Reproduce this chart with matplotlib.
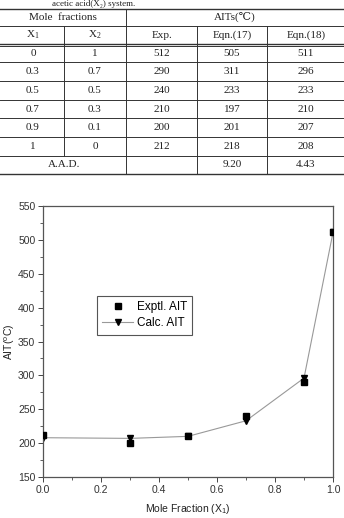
import matplotlib.pyplot as plt
from matplotlib.lines import Line2D

# table data
x1_vals = ["0", "0.3", "0.5", "0.7", "0.9", "1"]
x2_vals = ["1", "0.7", "0.5", "0.3", "0.1", "0"]
exp_vals = ["512", "290", "240", "210", "200", "212"]
eq17_vals = ["505", "311", "233", "197", "201", "218"]
eq18_vals = ["511", "296", "233", "210", "207", "208"]
aad = ["9.20", "4.43"]

# chart data
mole_frac = [0.0, 0.3, 0.5, 0.7, 0.9, 1.0]
ait_exp = [212, 200, 210, 240, 290, 512]
ait_calc = [208, 207, 210, 233, 296, 511]

W, H = 344, 518
fig = plt.figure(figsize=(W / 100, H / 100), dpi=100)


def fx(x):
    return x / W


def fy(y):
    return 1 - y / H


def hline(y, x0=0, x1=W, lw=0.7):
    fig.add_artist(Line2D([fx(x0), fx(x1)], [fy(y), fy(y)], color="#333333", lw=lw))


def vline(x, y0, y1, lw=0.7):
    fig.add_artist(Line2D([fx(x), fx(x)], [fy(y0), fy(y1)], color="#333333", lw=lw))


serif = ["Liberation Serif", "DejaVu Serif"]
tkw = dict(ha="center", va="center", fontsize=8, family=serif, color="#222222")

# caption above the table
fig.text(fx(52), fy(3.8), "acetic acid(X₂) system.", ha="left", va="center",
         fontsize=6.5, family=serif, color="#222222")

# table lines
hline(8.5, lw=1.0)
hline(26)
hline(43.5, lw=1.0)
hline(45.5, lw=0.7)
row_lines = [62, 81, 100, 118, 137, 156]
for y in row_lines:
    hline(y)
hline(174, lw=1.0)
vline(126, 8.5, 174)
vline(64, 26, 156)
vline(197, 26, 174)
vline(267, 26, 174)

# headers
fig.text(fx(63), fy(17), "Mole  fractions", **tkw)
fig.text(fx(235), fy(17), "AITs(℃)", **tkw)
col_x = [33, 95, 162, 232, 306]
heads = ["X$_\\mathregular{1}$", "X$_\\mathregular{2}$", "Exp.", "Eqn.(17)", "Eqn.(18)"]
for cx, h in zip(col_x, heads):
    fig.text(fx(cx), fy(35), h, **tkw)

row_y = [53, 72, 90.5, 109, 128, 146.5]
for i, ry in enumerate(row_y):
    vals = [x1_vals[i], x2_vals[i], exp_vals[i], eq17_vals[i], eq18_vals[i]]
    for cx, v in zip(col_x, vals):
        fig.text(fx(cx), fy(ry), v, **tkw)
fig.text(fx(64), fy(165), "A.A.D.", **tkw)
fig.text(fx(col_x[3]), fy(165), aad[0], **tkw)
fig.text(fx(col_x[4]), fy(165), aad[1], **tkw)

# chart
left, right, top, bottom = 43, 333, 206, 477
ax = fig.add_axes([fx(left), fy(bottom), fx(right - left), (bottom - top) / H])

ax.plot(mole_frac, ait_calc, color="#999999", lw=0.8, marker="v", ms=5,
        mfc="black", mec="black", label="Calc. AIT", zorder=2)
ax.plot(mole_frac, ait_exp, ls="none", marker="s", ms=4,
        mfc="black", mec="black", label="Exptl. AIT", zorder=3)

ax.set_xlim(0, 1.0)
ax.set_ylim(150, 550)
ax.set_xticks([0, 0.2, 0.4, 0.6, 0.8, 1.0])
ax.set_xticks([0.1, 0.3, 0.5, 0.7, 0.9], minor=True)
ax.set_yticks(range(150, 551, 50))
ax.set_yticks(range(175, 550, 50), minor=True)
ax.set_xticklabels(["0.0", "0.2", "0.4", "0.6", "0.8", "1.0"])

sans = ["Liberation Sans", "DejaVu Sans"]
for lab in ax.get_xticklabels() + ax.get_yticklabels():
    lab.set_family(sans)
    lab.set_fontsize(7.5)
    lab.set_color("#333333")

ax.tick_params(which="major", direction="out", length=3.5, width=0.7, color="#444444", pad=2)
ax.tick_params(which="minor", direction="out", length=2, width=0.6, color="#444444")
for s in ax.spines.values():
    s.set_color("#555555")
    s.set_linewidth(0.9)

ax.set_xlabel("Mole Fraction (X$_\\mathregular{1}$)", fontsize=7.5, family=sans,
              color="#222222", labelpad=5)
ax.set_ylabel("AIT($^\\mathregular{o}$C)", fontsize=7.5, family=sans,
              color="#222222", labelpad=1)

handles, labels = ax.get_legend_handles_labels()
leg = ax.legend(handles[::-1], labels[::-1], loc="upper left",
                bbox_to_anchor=(fx(97), fy(296)), bbox_transform=fig.transFigure,
                fancybox=False, edgecolor="#555555", framealpha=1,
                prop={"family": sans, "size": 8.5}, handlelength=2.6,
                borderpad=0.45, labelspacing=0.35, handletextpad=0.3,
                borderaxespad=0)
leg.get_frame().set_linewidth(0.8)

fig.savefig("out.png", dpi=100)
